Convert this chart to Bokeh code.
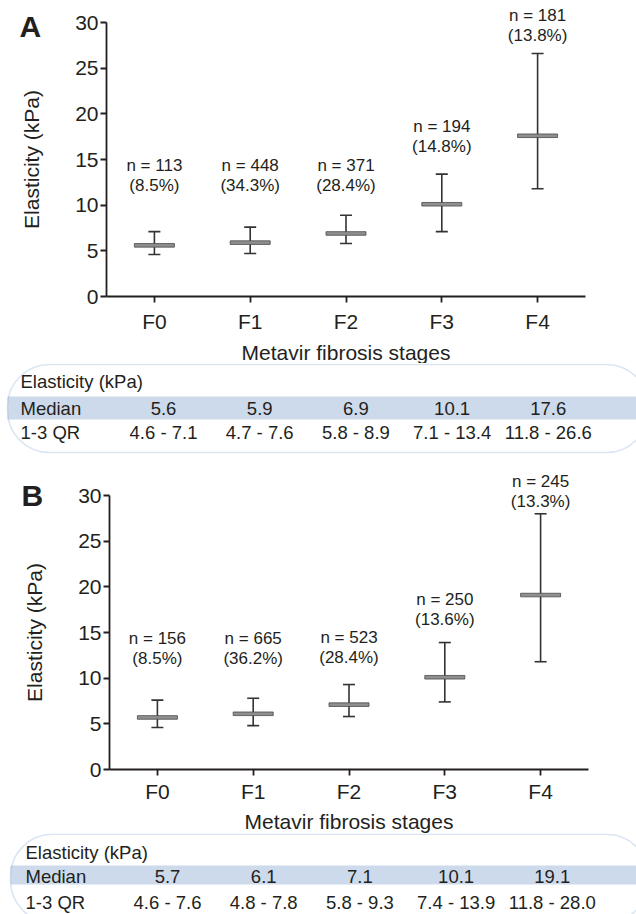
from bokeh.plotting import figure
from bokeh.models import Range1d, FixedTicker, Label, BoxAnnotation, ColumnDataSource
from bokeh.layouts import column
from bokeh.embed import file_html
from bokeh.resources import INLINE
from bokeh.core.properties import value

# ---------------- data ----------------
stages = ["F0", "F1", "F2", "F3", "F4"]
y_ticks = [0, 5, 10, 15, 20, 25, 30]

n_a = [113, 448, 371, 194, 181]
pct_a = [8.5, 34.3, 28.4, 14.8, 13.8]
median_a = [5.6, 5.9, 6.9, 10.1, 17.6]
q1_a = [4.6, 4.7, 5.8, 7.1, 11.8]
q3_a = [7.1, 7.6, 8.9, 13.4, 26.6]

n_b = [156, 665, 523, 250, 245]
pct_b = [8.5, 36.2, 28.4, 13.6, 13.3]
median_b = [5.7, 6.1, 7.1, 10.1, 19.1]
q1_b = [4.6, 4.8, 5.8, 7.4, 11.8]
q3_b = [7.6, 7.8, 9.3, 13.9, 28.0]

# ---------------- style / layout ----------------
FONT = "Liberation Sans"
INK = "#231f20"
W = 636
PPU = 274 / 30.0          # pixels per kPa
STEP = 95.8               # pixels per stage on the plot
SPAN = 96.2               # table column spacing (px)


def make_plot(letter, n, pct, med, q1, q3, gaps, axis_x, axis_y, top30, h,
              tick_so, lab_so, letter_x, letter_base):
    # full-frame figure; axes are fixed inside it
    x0 = -0.5 - axis_x / STEP
    x1 = -0.5 + (W - axis_x) / STEP
    y0 = -(h - axis_y) / PPU
    y1 = 30 + top30 / PPU
    p = figure(width=W, height=h, x_range=Range1d(x0, x1), y_range=Range1d(y0, y1),
               output_backend="svg", toolbar_location=None,
               min_border_left=0, min_border_right=0, min_border_top=0, min_border_bottom=0,
               x_axis_label="Metavir fibrosis stages", y_axis_label="Elasticity (kPa)")
    p.outline_line_color = None
    p.xgrid.visible = False
    p.ygrid.visible = False
    for ax in (p.xaxis[0], p.yaxis[0]):
        ax.axis_line_color = INK
        ax.axis_line_width = 1.8
        ax.major_tick_line_color = INK
        ax.major_tick_line_width = 1.8
        ax.major_tick_out = 6
        ax.major_tick_in = 0
        ax.minor_tick_line_color = None
        ax.major_label_text_font = FONT
        ax.major_label_text_font_size = "21px"
        ax.major_label_text_color = INK
        ax.axis_label_text_font = FONT
        ax.axis_label_text_font_size = "21px"
        ax.axis_label_text_font_style = "normal"
        ax.axis_label_text_color = INK
    ya = p.yaxis[0]
    ya.ticker = FixedTicker(ticks=y_ticks)
    ya.bounds = (0, 30)
    ya.fixed_location = -0.5
    ya.major_label_standoff = 2
    ya.axis_label_standoff = 29
    xa = p.xaxis[0]
    xa.ticker = FixedTicker(ticks=list(range(len(stages))))
    xa.major_label_overrides = {i: s for i, s in enumerate(stages)}
    xa.bounds = (-0.5, len(stages) - 0.5)
    xa.fixed_location = 0
    xa.major_label_standoff = tick_so
    xa.axis_label_standoff = lab_so

    idx = list(range(len(stages)))
    src = ColumnDataSource(dict(
        x=idx, med=med, q1=q1, q3=q3,
        l1=[f"n = {v}" for v in n], l2=[f"({v:.1f}%)" for v in pct],
        o1=[-g for g in gaps], o2=[-g + 20 for g in gaps]))

    p.segment(x0="x", y0="q1", x1="x", y1="q3", line_color="#333333", line_width=1.6, source=src)
    p.scatter(x="x", y="q1", marker="dash", size=12, line_color="#333333", line_width=1.6, source=src)
    p.scatter(x="x", y="q3", marker="dash", size=12, line_color="#333333", line_width=1.6, source=src)
    p.rect(x="x", y="med", width=40, height=3.6, width_units="screen", height_units="screen",
           fill_color="#8f8f8f", line_color="#4a4a4a", line_width=0.8, source=src)

    for col, off in (("l1", "o1"), ("l2", "o2")):
        p.text(x="x", y="q3", text=col, y_offset=off, source=src,
               text_font=value(FONT), text_font_size="17px", text_color=INK,
               text_align="center", text_baseline="middle")

    p.add_layout(Label(x=-0.5 + (letter_x - axis_x) / STEP, y=(axis_y - letter_base) / PPU,
                       text=letter, text_font=FONT, text_font_size="30px",
                       text_font_style="bold", text_color=INK,
                       text_align="left", text_baseline="alphabetic"))
    return p


def make_table(med, q1, q3, c0, h, box_top, box_bot, box_left, elast_y, band_top, band_bot,
               med_y, qr_y, text_x):
    p = figure(width=W, height=h,
               x_range=Range1d((0 - c0) / SPAN, (W - c0) / SPAN), y_range=Range1d(0, h),
               output_backend="svg", toolbar_location=None,
               x_axis_location=None, y_axis_location=None,
               min_border_left=0, min_border_right=0, min_border_top=0, min_border_bottom=0)
    p.xgrid.visible = False
    p.ygrid.visible = False
    p.outline_line_color = None

    def tx(px):
        return (px - c0) / SPAN

    def ty(off):
        return h - off

    p.quad(left=[tx(box_left)], right=[tx(648)], top=[ty(band_top)], bottom=[ty(band_bot)],
           fill_color="#cddaeb", line_color=None)
    p.add_layout(BoxAnnotation(left=tx(box_left), right=tx(648), top=ty(box_top), bottom=ty(box_bot),
                               fill_color=None, fill_alpha=0, line_color="#86a9d8", line_width=1.6,
                               border_radius=42))
    p.text(x=[tx(text_x)] * 3, y=[ty(elast_y), ty(med_y), ty(qr_y)],
           text=["Elasticity (kPa)", "Median", "1-3 QR"],
           text_font=value(FONT), text_font_size="18.5px", text_color=INK,
           text_align="left", text_baseline="middle")
    idx = list(range(len(stages)))
    p.text(x=idx, y=[ty(med_y)] * len(idx), text=[f"{m:.1f}" for m in med],
           text_font=value(FONT), text_font_size="18.5px", text_color=INK,
           text_align="center", text_baseline="middle")
    p.text(x=idx, y=[ty(qr_y)] * len(idx), text=[f"{a:.1f} - {b:.1f}" for a, b in zip(q1, q3)],
           text_font=value(FONT), text_font_size="18.5px", text_color=INK,
           text_align="center", text_baseline="middle")
    return p


# panel A: page 0..363, axes at x=106 / y=296, y=30 at page 22
pA = make_plot("A", n_a, pct_a, median_a, q1_a, q3_a, [66, 62, 50, 48, 38],
               axis_x=106, axis_y=296, top30=22, h=363, tick_so=7, lab_so=5,
               letter_x=19, letter_base=26)
tA = make_table(median_a, q1_a, q3_a, c0=163, h=99, box_top=1, box_bot=89, box_left=7,
                elast_y=17.5, band_top=33, band_bot=56, med_y=44.5, qr_y=69, text_x=20)
# panel B: page 462..833, axes at x=109 / y=769-462, y=30 at page 495
pB = make_plot("B", n_b, pct_b, median_b, q1_b, q3_b, [62, 60, 47, 43, 32],
               axis_x=109, axis_y=307, top30=33, h=371, tick_so=4, lab_so=4,
               letter_x=21, letter_base=33)
tB = make_table(median_b, q1_b, q3_b, c0=167, h=81, box_top=0.8, box_bot=89, box_left=10,
                elast_y=18.5, band_top=32, band_bot=51, med_y=42.5, qr_y=68.5, text_x=25)

layout = column(pA, tA, pB, tB, spacing=0)
open("out.html", "w").write(file_html(layout, INLINE))
